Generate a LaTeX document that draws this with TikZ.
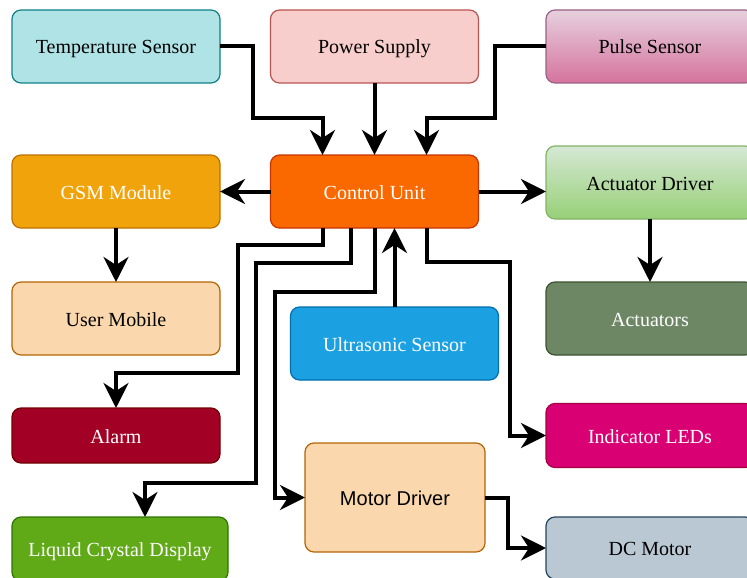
\documentclass[tikz,border=0pt]{standalone}
\usepackage{fontspec}
\setmainfont{Liberation Serif}
\newfontfamily\motorfont{Liberation Sans}
\usetikzlibrary{arrows.meta}
\definecolor{tempfill}{HTML}{B0E3E6}\definecolor{templine}{HTML}{0E8088}
\definecolor{powerfill}{HTML}{F8CECC}\definecolor{powerline}{HTML}{B85450}
\definecolor{pulsetop}{HTML}{E6D0DE}\definecolor{pulsebot}{HTML}{D5739D}\definecolor{pulseline}{HTML}{996185}
\definecolor{gsmfill}{HTML}{F0A30A}\definecolor{gsmline}{HTML}{BD7000}
\definecolor{ctrlfill}{HTML}{FA6800}\definecolor{ctrlline}{HTML}{C73500}
\definecolor{drvtop}{HTML}{D5E8D4}\definecolor{drvbot}{HTML}{97D077}\definecolor{drvline}{HTML}{82B366}
\definecolor{peachfill}{HTML}{FAD7AC}\definecolor{peachline}{HTML}{B46504}
\definecolor{ultrafill}{HTML}{1BA1E2}\definecolor{ultraline}{HTML}{006EAF}
\definecolor{actfill}{HTML}{6D8764}\definecolor{actline}{HTML}{3A5431}
\definecolor{alarmfill}{HTML}{A20025}\definecolor{alarmline}{HTML}{6F0000}
\definecolor{ledfill}{HTML}{D80073}\definecolor{ledline}{HTML}{A50040}
\definecolor{lcdfill}{HTML}{60A917}\definecolor{lcdline}{HTML}{2D7600}
\definecolor{dcfill}{HTML}{BAC8D3}\definecolor{dcline}{HTML}{23445D}
\begin{document}
\begin{tikzpicture}[x=1pt,y=-1pt,inner sep=0pt,outer sep=0pt,line width=4pt,
>={Stealth[length=25pt,width=25pt,inset=8pt]},
unit/.style={draw,rectangle,rounded corners=9pt,minimum width=208pt,minimum height=73pt,line width=1.2pt,text height=19pt,text depth=4pt,font=\fontsize{20}{24}\selectfont},
lightunit/.style={unit,text=black},
darkunit/.style={unit,text=white}]
\useasboundingbox (0,0) rectangle (747,578);
\draw (116,46.5) node[lightunit,fill=tempfill,draw=templine] (temp) {Temperature Sensor};
\draw (374.5,46.5) node[lightunit,fill=powerfill,draw=powerline] (power) {Power Supply};
\draw (650,46.5) node[lightunit,top color=pulsetop,bottom color=pulsebot,draw=pulseline] (pulse) {Pulse Sensor};
\draw (116,191.5) node[darkunit,fill=gsmfill,draw=gsmline] (gsm) {GSM Module};
\draw (374.5,191.5) node[darkunit,fill=ctrlfill,draw=ctrlline] (ctrl) {Control Unit};
\draw (650,182.5) node[lightunit,top color=drvtop,bottom color=drvbot,draw=drvline] (actdrv) {Actuator Driver};
\draw (116,318.5) node[lightunit,fill=peachfill,draw=peachline] (mobile) {User Mobile};
\draw (394.5,343.5) node[darkunit,fill=ultrafill,draw=ultraline] (ultra) {Ultrasonic Sensor};
\draw (650,318.5) node[darkunit,fill=actfill,draw=actline] (act) {Actuators};
\draw (116,435.5) node[darkunit,fill=alarmfill,draw=alarmline,minimum height=55pt] (alarm) {Alarm};
\draw (650,435.5) node[darkunit,fill=ledfill,draw=ledline,minimum height=64pt] (leds) {Indicator LEDs};
\draw (395,497.5) node[lightunit,fill=peachfill,draw=peachline,minimum width=180pt,minimum height=109pt,font=\motorfont\fontsize{20}{24}\selectfont] (motordrv) {Motor Driver};
\draw (120,549) node[darkunit,fill=lcdfill,draw=lcdline,minimum width=216pt,minimum height=64pt] (lcd) {Liquid Crystal Display};
\draw (650,548) node[lightunit,fill=dcfill,draw=dcline,minimum height=62pt] (dcmotor) {DC Motor};
% inputs to the control unit
\draw[->] (temp.east) -- ++(33,0) -- ++(0,71.5) -| ([xshift=-52pt]ctrl.north);
\draw[->] (power) -- (ctrl);
\draw[->] (pulse.west) -- ++(-51,0) -- ++(0,71.5) -| ([xshift=52pt]ctrl.north);
\draw[->] (ultra.north) -- (ultra.north |- ctrl.south);
% outputs
\draw[->] (ctrl) -- (gsm);
\draw[->] (ctrl.east) -- (ctrl.east -| actdrv.west);
\draw[->] (gsm) -- (mobile);
\draw[->] (actdrv) -- (act);
\draw[->] ([xshift=-52pt]ctrl.south) -- ++(0,17) -- ++(-84.5,0) -- ++(0,128) -| (alarm.north);
\draw[->] ([xshift=-24pt]ctrl.south) -- ++(0,35) -- ++(-94.5,0) -- ++(0,220) -| ([xshift=25pt]lcd.north);
\draw[->] (ctrl.south) -- ++(0,64) -- ++(-99.5,0) |- (motordrv.west);
\draw[->] ([xshift=52pt]ctrl.south) -- ++(0,34) -- ++(83.5,0) |- (leds.west);
\draw[->] (motordrv.east) -- ++(23,0) |- (dcmotor.west);
\end{tikzpicture}
\end{document}
